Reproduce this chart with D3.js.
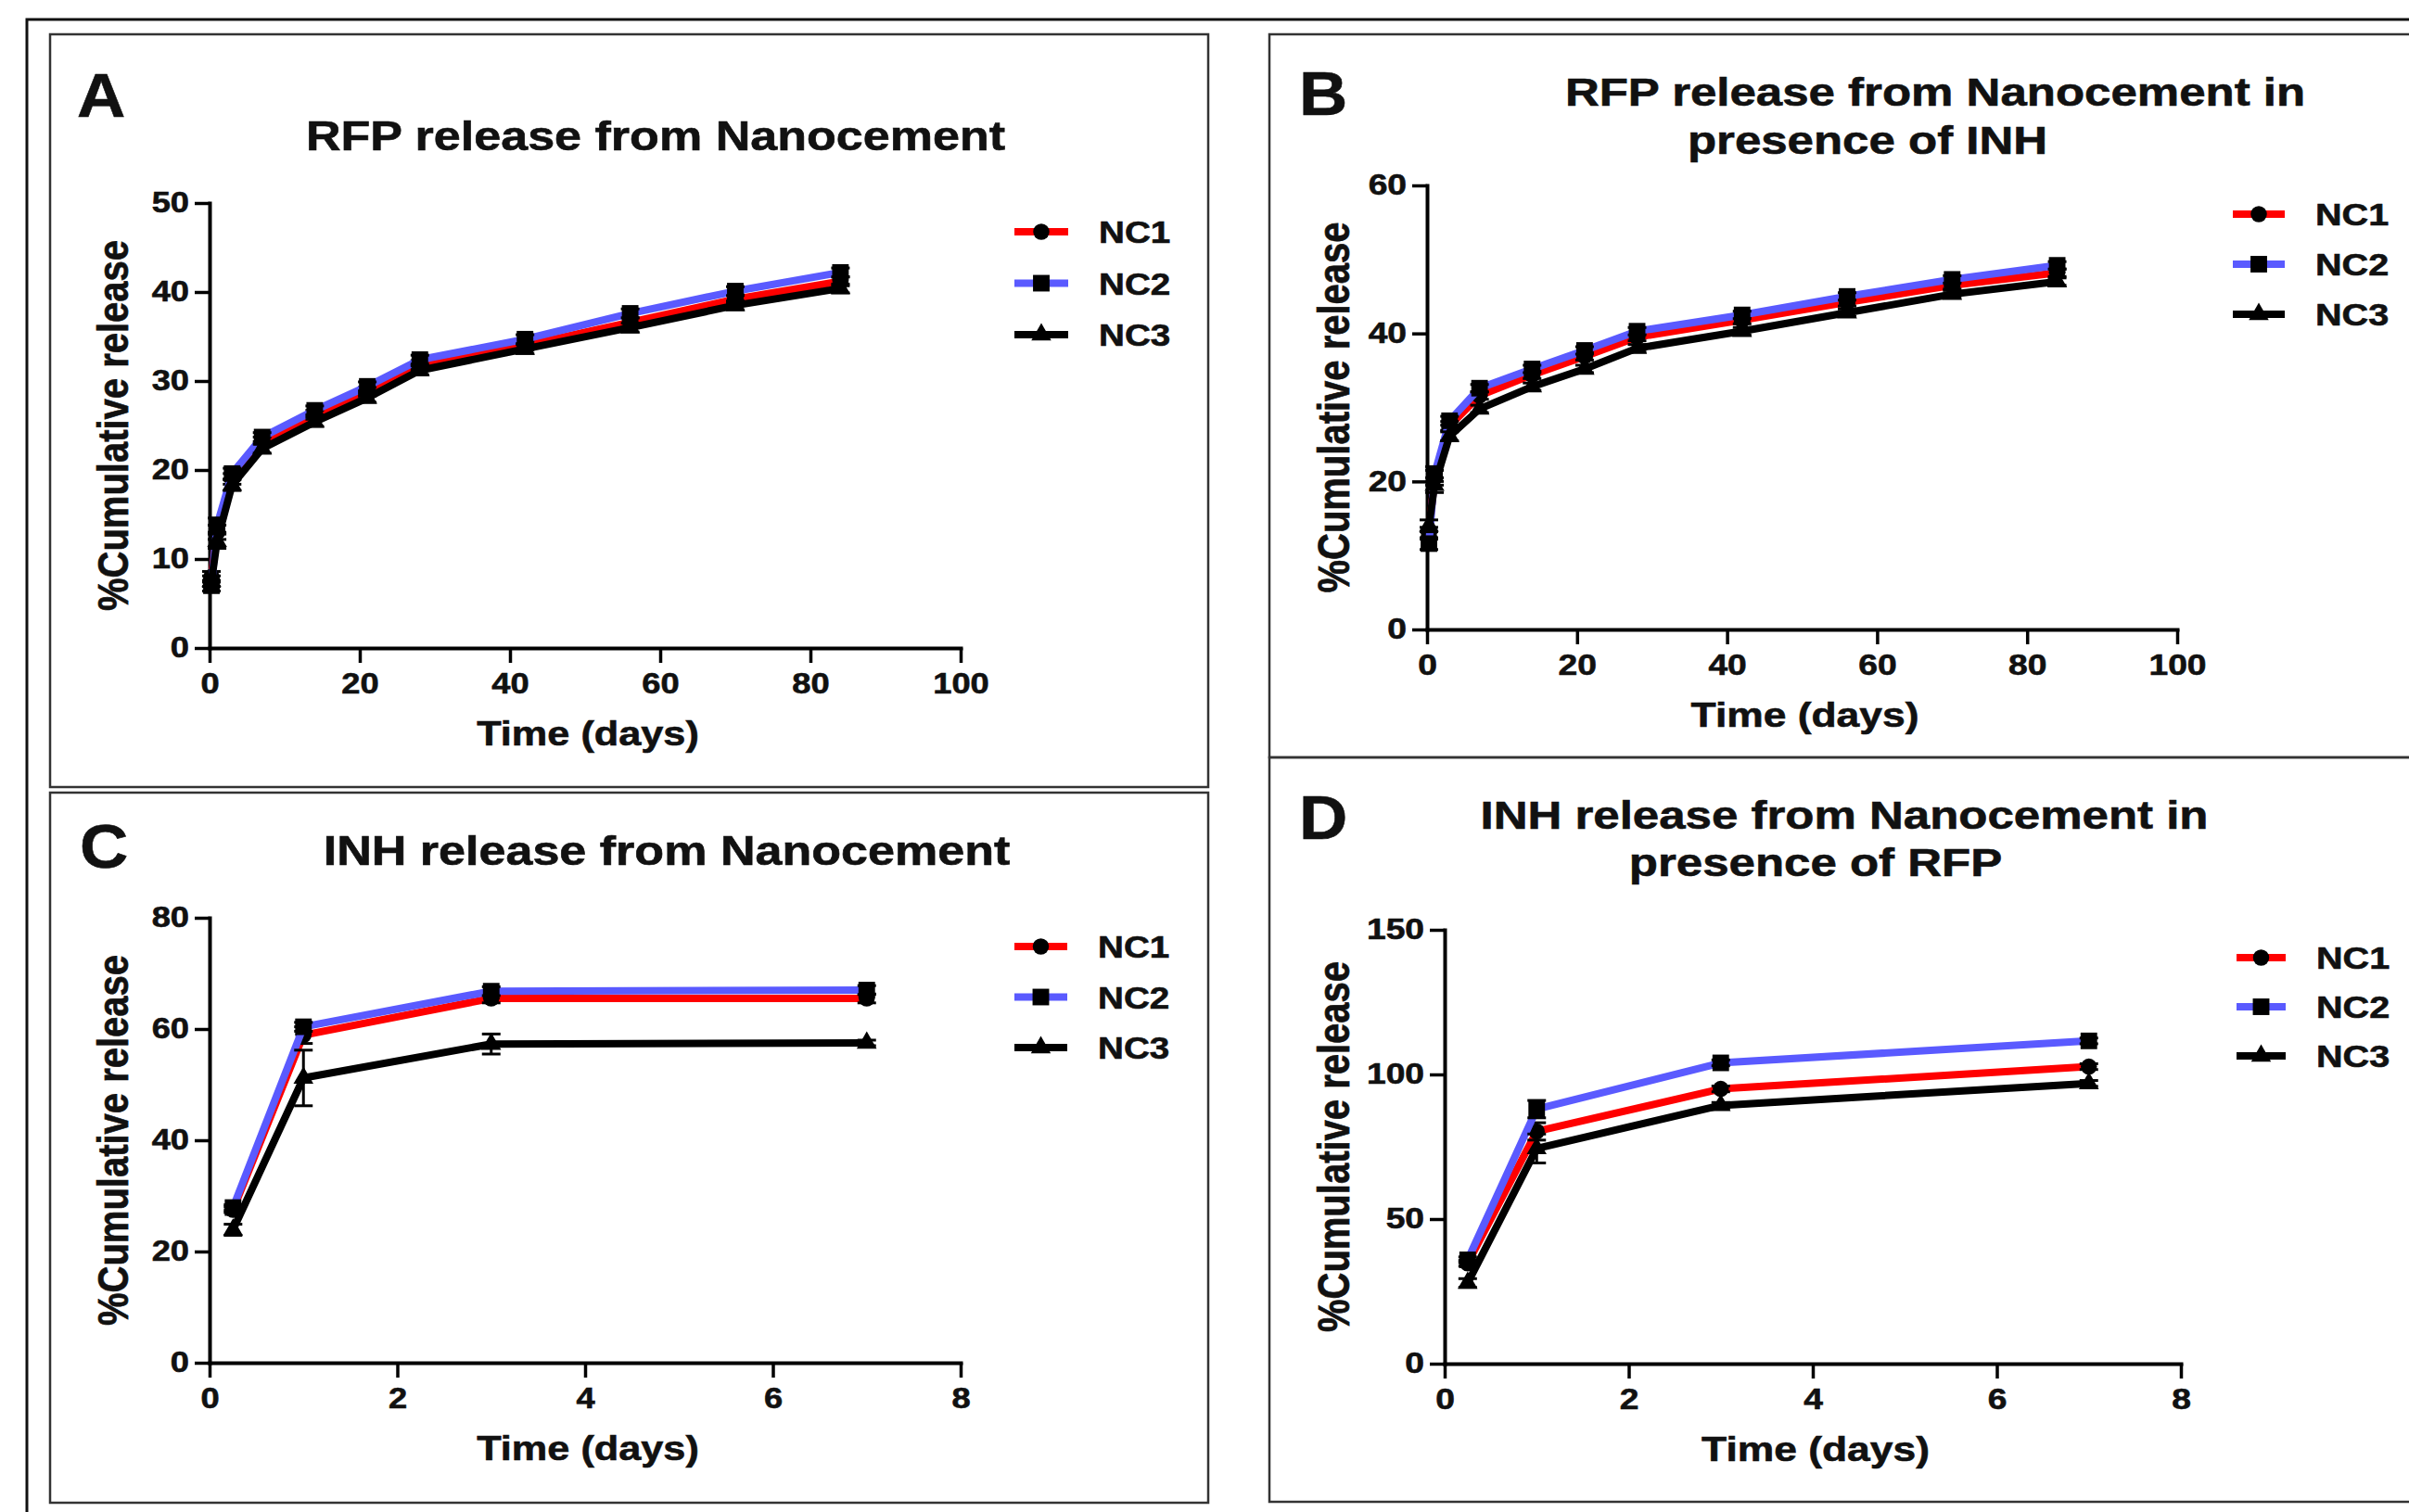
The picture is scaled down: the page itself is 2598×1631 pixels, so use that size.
<!DOCTYPE html>
<html>
<head>
<meta charset="utf-8">
<script src="https://cdn.jsdelivr.net/npm/d3@7"></script>
<style>
  body { margin: 0; background: #fff; }
  svg { display: block; }
  text { font-family: "Liberation Sans", Arial, sans-serif; font-weight: bold; fill: #111; stroke: #111; stroke-width: 0.6px; }
</style>
</head>
<body>
<svg id="fig"></svg>
<script>
// series
var seriesNames = ["NC1", "NC2", "NC3"];
var seriesColors = ["#ff0000", "#5a5aff", "#000000"];
var seriesSymbols = [d3.symbolCircle, d3.symbolSquare, d3.symbolTriangle];

// A - RFP release from nanocement
var rfpDays = [0.25, 1, 3, 7, 14, 21, 28, 42, 56, 70, 84];
var rfpNC1 = [8.0, 13.0, 19.0, 23.2, 26.2, 28.8, 31.8, 34.0, 36.6, 39.2, 41.2];
var rfpNC2 = [7.0, 13.8, 19.6, 23.7, 26.7, 29.4, 32.4, 34.7, 37.6, 40.1, 42.2];
var rfpNC3 = [7.5, 12.0, 18.3, 22.4, 25.4, 28.1, 31.2, 33.6, 36.0, 38.5, 40.4];
var rfpErr = [0.6, 0.8, 0.6, 0.5, 0.5, 0.5, 0.5, 0.5, 0.5, 0.5, 0.5];

// B - RFP release in presence of INH
var rfpInhNC1 = [13.0, 20.5, 27.5, 31.6, 34.4, 36.9, 39.5, 41.8, 44.2, 46.5, 48.2];
var rfpInhNC2 = [11.6, 21.0, 28.2, 32.6, 35.2, 37.7, 40.3, 42.5, 45.0, 47.3, 49.2];
var rfpInhNC3 = [14.0, 19.5, 26.1, 29.8, 32.8, 35.2, 38.0, 40.3, 42.8, 45.3, 47.0];
var rfpInhErr = [0.8, 1.0, 0.6, 0.5, 0.5, 0.5, 0.5, 0.5, 0.5, 0.5, 0.5];

// C - INH release from nanocement
var inhDays = [0.25, 1, 3, 7];
var inhNC1 = [27.5, 58.9, 65.5, 65.5];
var inhNC2 = [27.9, 60.4, 66.8, 67.0];
var inhNC3 = [23.9, 51.2, 57.3, 57.5];
var inhErrNC1 = [0.5, 1.5, 0.8, 0.8];
var inhErrNC2 = [0.5, 0.8, 0.8, 0.8];
var inhErrNC3 = [1.0, 5.0, 1.8, 0.5];

// D - INH release in presence of RFP
var inhRfpNC1 = [34.7, 80.3, 95.0, 102.7];
var inhRfpNC2 = [35.9, 88.0, 104.0, 111.6];
var inhRfpNC3 = [27.9, 74.4, 89.3, 96.9];
var inhRfpErrNC1 = [1.0, 3.0, 1.0, 1.0];
var inhRfpErrNC2 = [1.0, 3.0, 1.0, 1.0];
var inhRfpErrNC3 = [1.5, 5.0, 1.0, 1.0];

// ticks
var rfpXTicks = [0, 20, 40, 60, 80, 100];
var inhXTicks = [0, 2, 4, 6, 8];
var yTicksA = [0, 10, 20, 30, 40, 50];
var yTicksB = [0, 20, 40, 60];
var yTicksC = [0, 20, 40, 60, 80];
var yTicksD = [0, 50, 100, 150];

var xTitle = "Time (days)";
var yTitle = "%Cumulative release";

var W = 2598, H = 1631;
var svg = d3.select("#fig").attr("width", W).attr("height", H);
svg.append("rect").attr("width", W).attr("height", H).attr("fill", "#fff");

var panels = [
  { letter: "A", box: [54, 37, 1303, 849], xr: [226, 1036], yr: [699, 219],
    xd: [0, 100], yd: [0, 50], xt: rfpXTicks, yt: yTicksA, sx: 1.17, tsize: 44.5,
    titles: [["RFP release from Nanocement", 707, 162]], lpos: [83, 126],
    leg: [1094, 1152, 1185, 250, 55.5], ylx: 138,
    x: rfpDays, ys: [rfpNC1, rfpNC2, rfpNC3], es: [rfpErr, rfpErr, rfpErr] },
  { letter: "B", box: [1369, 37, 2620, 817], xr: [1539, 2348], yr: [679, 200],
    xd: [0, 100], yd: [0, 60], xt: rfpXTicks, yt: yTicksB, sx: 1.2, tsize: 42.5,
    titles: [["RFP release from Nanocement in", 2087, 114], ["presence of INH", 2014, 166]],
    lpos: [1401, 124], leg: [2408, 2464, 2497, 231, 54], ylx: 1455,
    x: rfpDays, ys: [rfpInhNC1, rfpInhNC2, rfpInhNC3], es: [rfpInhErr, rfpInhErr, rfpInhErr] },
  { letter: "C", box: [54, 855, 1303, 1621], xr: [226, 1036], yr: [1470, 990],
    xd: [0, 8], yd: [0, 80], xt: inhXTicks, yt: yTicksC, sx: 1.17, tsize: 44.5,
    titles: [["INH release from Nanocement", 719, 933]], lpos: [86, 936],
    leg: [1094, 1151, 1184, 1021, 54.5], ylx: 138,
    x: inhDays, ys: [inhNC1, inhNC2, inhNC3], es: [inhErrNC1, inhErrNC2, inhErrNC3] },
  { letter: "D", box: [1369, 817, 2620, 1620], xr: [1558, 2352], yr: [1471, 1003],
    xd: [0, 8], yd: [0, 150], xt: inhXTicks, yt: yTicksD, sx: 1.2, tsize: 42.5,
    titles: [["INH release from Nanocement in", 1989, 894], ["presence of RFP", 1958, 945]],
    lpos: [1401, 905], leg: [2412, 2465, 2498, 1033, 53], ylx: 1455,
    x: inhDays, ys: [inhRfpNC1, inhRfpNC2, inhRfpNC3], es: [inhRfpErrNC1, inhRfpErrNC2, inhRfpErrNC3] }
];

// outer frame (cut by the right and bottom edge)
svg.append("path").attr("d", "M29," + H + "V21H" + W)
  .attr("fill", "none").attr("stroke", "#111").attr("stroke-width", 3);

function stext(g, x, y, str, size, sx, anchor) {
  return g.append("text")
    .attr("transform", "translate(" + x + "," + y + ") scale(" + sx + ",1)")
    .attr("text-anchor", anchor || "start")
    .style("font-size", size + "px")
    .text(str);
}

panels.forEach(function (p) {
  var g = svg.append("g");
  var b = p.box;
  g.append("rect").attr("x", b[0]).attr("y", b[1])
    .attr("width", b[2] - b[0]).attr("height", b[3] - b[1])
    .attr("fill", "none").attr("stroke", "#333").attr("stroke-width", 2.5);

  var x = d3.scaleLinear().domain(p.xd).range(p.xr);
  var y = d3.scaleLinear().domain(p.yd).range(p.yr);

  // axes
  var ya = g.append("g").attr("transform", "translate(" + p.xr[0] + ",0)")
    .call(d3.axisLeft(y).tickValues(p.yt).tickSize(16).tickSizeOuter(0).tickPadding(6));
  var xa = g.append("g").attr("transform", "translate(0," + p.yr[0] + ")")
    .call(d3.axisBottom(x).tickValues(p.xt).tickSize(16).tickSizeOuter(0).tickPadding(11));
  [ya, xa].forEach(function (a) {
    a.select(".domain").attr("stroke", "#000").attr("stroke-width", 4).attr("stroke-linecap", "square");
    a.selectAll(".tick line").attr("stroke", "#000").attr("stroke-width", 3.5);
    a.selectAll(".tick text").style("font-size", "31px").attr("fill", "#111")
      .style("font-family", "'Liberation Sans', Arial, sans-serif").style("font-weight", "bold");
  });
  ya.selectAll(".tick text").attr("x", -22 / p.sx).attr("transform", "scale(" + p.sx + ",1)");
  xa.selectAll(".tick text").attr("transform", "scale(" + p.sx + ",1)");

  // axis titles
  stext(g, (p.xr[0] + p.xr[1]) / 2 + 3, p.yr[0] + 105, xTitle, 37, p.sx, "middle");
  g.append("text")
    .attr("transform", "translate(" + p.ylx + "," + (p.yr[0] + p.yr[1]) / 2 + ") scale(" + p.sx + ",1) rotate(-90)")
    .attr("text-anchor", "middle").style("font-size", "40px").text(yTitle);

  // panel letter and title
  stext(g, p.lpos[0], p.lpos[1], p.letter, 67, 1.08, "start");
  p.titles.forEach(function (t) { stext(g, t[1], t[2], t[0], p.tsize, p.sx, "middle"); });

  // series
  var line = d3.line().x(function (d) { return x(d[0]); }).y(function (d) { return y(d[1]); });
  p.ys.forEach(function (vals, i) {
    var pts = p.x.map(function (t, j) { return [t, vals[j], p.es[i][j]]; });
    var sg = g.append("g");
    sg.append("path").datum(pts).attr("d", line).attr("fill", "none")
      .attr("stroke", seriesColors[i]).attr("stroke-width", 8).attr("stroke-linejoin", "round");
    var eb = sg.selectAll(".eb").data(pts.filter(function (d) { return d[2] > 0; })).enter().append("g");
    eb.append("line").attr("x1", function (d) { return x(d[0]); }).attr("x2", function (d) { return x(d[0]); })
      .attr("y1", function (d) { return y(d[1] - d[2]); }).attr("y2", function (d) { return y(d[1] + d[2]); })
      .attr("stroke", "#000").attr("stroke-width", 3);
    [-1, 1].forEach(function (s) {
      eb.append("line").attr("x1", function (d) { return x(d[0]) - 10; }).attr("x2", function (d) { return x(d[0]) + 10; })
        .attr("y1", function (d) { return y(d[1] + s * d[2]); }).attr("y2", function (d) { return y(d[1] + s * d[2]); })
        .attr("stroke", "#000").attr("stroke-width", 3);
    });
    sg.selectAll(".mk").data(pts).enter().append("path")
      .attr("transform", function (d) { return "translate(" + x(d[0]) + "," + y(d[1]) + ")"; })
      .attr("d", d3.symbol().type(seriesSymbols[i]).size([240, 320, 200][i]))
      .attr("fill", "#000");
  });

  // legend
  var L = p.leg;
  seriesNames.forEach(function (name, i) {
    var ly = L[3] + i * L[4];
    g.append("line").attr("x1", L[0]).attr("x2", L[1]).attr("y1", ly).attr("y2", ly)
      .attr("stroke", seriesColors[i]).attr("stroke-width", 8);
    g.append("path").attr("transform", "translate(" + (L[0] + L[1]) / 2 + "," + ly + ")")
      .attr("d", d3.symbol().type(seriesSymbols[i]).size([240, 320, 200][i])).attr("fill", "#000");
    stext(g, L[2], ly + 12, name, 33, p.sx, "start");
  });
});
</script>
</body>
</html>
